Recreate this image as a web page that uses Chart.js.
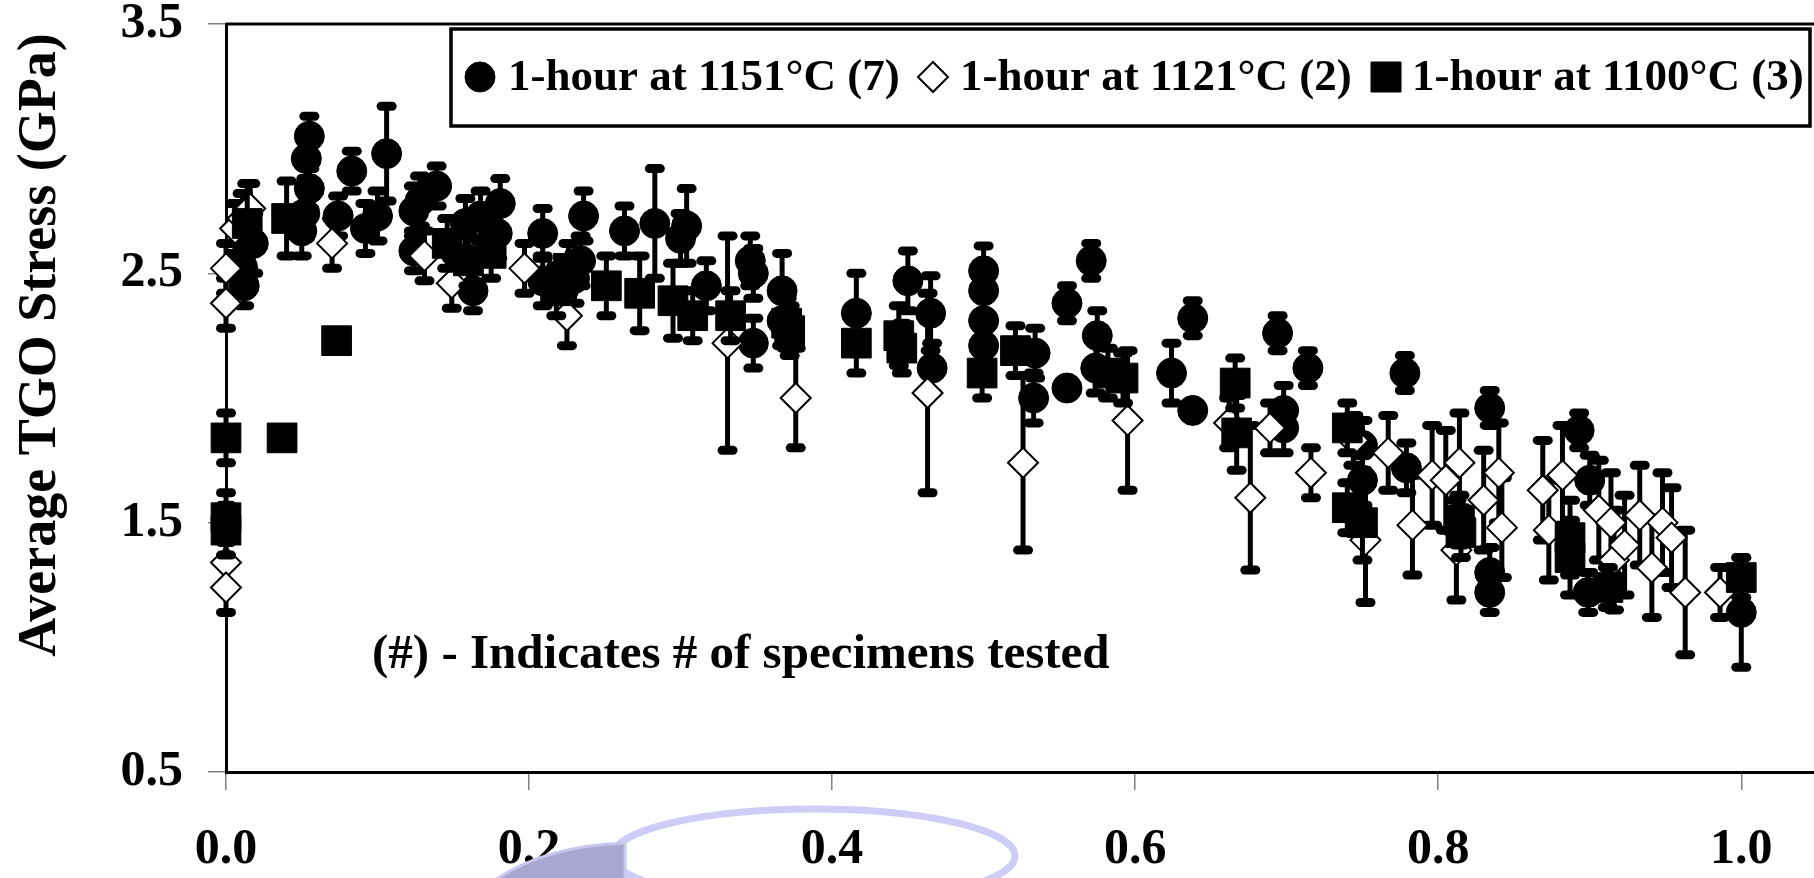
<!DOCTYPE html>
<html>
<head>
<meta charset="utf-8">
<script src="https://cdn.jsdelivr.net/npm/chart.js@4/dist/chart.umd.min.js"></script>
<style>
  html, body { margin: 0; padding: 0; background: #fff; overflow: hidden; }
  #wrap { width: 1814px; height: 878px; }
</style>
</head>
<body>
<div id="wrap"><canvas id="chart" width="1814" height="878"></canvas></div>
<script>
// axis ticks
const xTicks = [0, 0.2, 0.4, 0.6, 0.8, 1.0];
const yTicks = [0.5, 1.5, 2.5, 3.5];

const seriesNames = ['1-hour at 1151°C (7)', '1-hour at 1121°C (2)', '1-hour at 1100°C (3)'];
const yTitle = 'Average TGO Stress (GPa)';
const note = '(#) - Indicates # of specimens tested';

// 1151°C - filled circles
const x1151 = [0.011, 0.012, 0.018, 0.050, 0.052, 0.055, 0.053, 0.055, 0.074, 0.083, 0.092, 0.100, 0.106, 0.124, 0.124, 0.128, 0.139, 0.158, 0.163, 0.168,
  0.181, 0.179, 0.209, 0.209, 0.230, 0.234, 0.236, 0.263, 0.283, 0.304, 0.300, 0.317, 0.346, 0.348, 0.348, 0.367, 0.367, 0.416, 0.450, 0.465,
  0.466, 0.500, 0.500, 0.500, 0.500, 0.534, 0.533, 0.555, 0.571, 0.555, 0.575, 0.574, 0.624, 0.638, 0.638, 0.694, 0.714, 0.698, 0.698, 0.750,
  0.750, 0.778, 0.779, 0.834, 0.834, 0.834, 0.893, 0.900, 0.899, 1.000];
const y1151 = [2.52, 2.45, 2.62, 2.67, 2.74, 2.84, 2.96, 3.05, 2.73, 2.91, 2.68, 2.73, 2.98, 2.75, 2.59, 2.79, 2.85, 2.70, 2.43, 2.73,
  2.78, 2.66, 2.66, 2.47, 2.48, 2.55, 2.73, 2.67, 2.70, 2.69, 2.64, 2.45, 2.55, 2.50, 2.22, 2.43, 2.31, 2.34, 2.47, 2.34,
  2.12, 2.51, 2.43, 2.31, 2.21, 2.18, 2.00, 2.04, 2.55, 2.38, 2.25, 2.12, 2.10, 2.32, 1.95, 2.26, 2.12, 1.95, 1.88, 1.81,
  1.67, 2.10, 1.72, 1.96, 1.30, 1.22, 1.87, 1.67, 1.22, 1.14];
const e1151 = [0.08, 0.08, 0.12, 0.10, 0.10, 0.08, 0.08, 0.08, 0.08, 0.08, 0.10, 0.10, 0.19, 0.10, 0.08, 0.10, 0.08, 0.10, 0.08, 0.10,
  0.10, 0.10, 0.10, 0.10, 0.10, 0.10, 0.10, 0.10, 0.22, 0.15, 0.10, 0.10, 0.10, 0.10, 0.10, 0.15, 0.10, 0.16, 0.12, 0.15,
  0.10, 0.10, 0.10, 0.10, 0.10, 0.10, 0.10, 0, 0.07, 0.07, 0.10, 0.10, 0.12, 0.07, 0, 0.07, 0.07, 0.10, 0.10, 0.10,
  0.10, 0.07, 0.10, 0.07, 0.10, 0.08, 0.07, 0.10, 0.08, 0.22];

// 1121°C - open diamonds
const x1121 = [0.000, 0.000, 0.000, 0.000, 0.006, 0.011, 0.016, 0.070, 0.131, 0.149, 0.197, 0.225, 0.331, 0.376, 0.463, 0.526, 0.595, 0.662, 0.676, 0.689,
  0.716, 0.744, 0.752, 0.767, 0.783, 0.796, 0.805, 0.814, 0.812, 0.830, 0.840, 0.842, 0.869, 0.882, 0.873, 0.906, 0.914, 0.916, 0.923, 0.933,
  0.941, 0.948, 0.954, 0.963, 0.986];
const y1121 = [2.52, 2.38, 1.34, 1.24, 2.68, 2.72, 2.76, 2.62, 2.57, 2.46, 2.52, 2.33, 2.22, 2.00, 2.02, 1.74, 1.91, 1.90, 1.60, 1.88,
  1.70, 1.83, 1.43, 1.78, 1.49, 1.69, 1.67, 1.74, 1.39, 1.59, 1.70, 1.48, 1.63, 1.69, 1.47, 1.55, 1.50, 1.35, 1.41, 1.53,
  1.32, 1.50, 1.44, 1.22, 1.22];
const e1121 = [0.10, 0.10, 0.10, 0.10, 0.10, 0.10, 0.10, 0.10, 0.10, 0.10, 0.10, 0.12, 0.43, 0.20, 0.40, 0.35, 0.28, 0.10, 0.29, 0.10,
  0.10, 0.10, 0.25, 0.15, 0.20, 0.20, 0.20, 0.20, 0.20, 0.20, 0.20, 0.20, 0.20, 0.20, 0.20, 0.20, 0.20, 0.20, 0.20, 0.20,
  0.20, 0.20, 0.20, 0.25, 0.10];

// 1100°C - filled squares
const x1100 = [0.000, 0.037, 0.000, 0.000, 0.014, 0.040, 0.073, 0.146, 0.160, 0.175, 0.218, 0.226, 0.251, 0.273, 0.295, 0.308, 0.333, 0.370, 0.372, 0.416,
  0.444, 0.446, 0.499, 0.521, 0.582, 0.592, 0.666, 0.667, 0.740, 0.740, 0.750, 0.814, 0.815, 0.887, 0.887, 0.912, 1.000];
const y1100 = [1.84, 1.84, 1.52, 1.47, 2.70, 2.72, 2.23, 2.62, 2.55, 2.58, 2.43, 2.52, 2.45, 2.42, 2.39, 2.33, 2.33, 2.30, 2.27, 2.22,
  2.25, 2.20, 2.10, 2.19, 2.10, 2.08, 2.06, 1.86, 1.88, 1.56, 1.50, 1.51, 1.46, 1.44, 1.36, 1.24, 1.28];
const e1100 = [0.10, 0, 0.10, 0.10, 0.16, 0.15, 0, 0.10, 0.10, 0.10, 0.10, 0.10, 0.12, 0.15, 0.15, 0.10, 0.10, 0.10, 0.10, 0.12,
  0.12, 0.10, 0.10, 0.10, 0.10, 0.10, 0.10, 0.15, 0.10, 0.10, 0.15, 0.10, 0.10, 0.15, 0.15, 0.08, 0.08];

const SERIF = '"Liberation Serif", "Times New Roman", serif';

function points(xs, ys) {
  return xs.map((x, i) => ({ x: x, y: ys[i] }));
}

function pill(ctx, cx, cy, w, h) {
  ctx.beginPath();
  ctx.roundRect(cx - w / 2, cy - h / 2, w, h, h / 2);
  ctx.fill();
}

// vertical error bars with rounded caps, drawn under each series' own markers
const errorBars = {
  id: 'errorBars',
  beforeDatasetDraw(chart, args) {
    const ds = chart.data.datasets[args.index];
    if (!ds.errors) return;
    const ctx = chart.ctx, xs = chart.scales.x, ys = chart.scales.y;
    ctx.save();
    ctx.strokeStyle = '#000';
    ctx.fillStyle = '#000';
    ctx.lineWidth = 5;
    ds.data.forEach((p, i) => {
      const e = ds.errors[i];
      if (!e) return;
      const px = xs.getPixelForValue(p.x);
      const top = ys.getPixelForValue(p.y + e);
      const bot = ys.getPixelForValue(p.y - e);
      ctx.beginPath();
      ctx.moveTo(px, top);
      ctx.lineTo(px, bot);
      ctx.stroke();
      pill(ctx, px, top, 20, 9);
      pill(ctx, px, bot, 20, 9);
    });
    ctx.restore();
  }
};

// top frame line, legend box, note, rotated y title, stray slide shapes
const extras = {
  id: 'extras',
  beforeDatasetsDraw(chart) {
    const { ctx, chartArea } = chart;
    ctx.save();
    ctx.strokeStyle = '#000';
    ctx.lineWidth = 3;
    ctx.beginPath();
    ctx.moveTo(chartArea.left, chartArea.top);
    ctx.lineTo(chart.width, chartArea.top);
    ctx.stroke();
    ctx.restore();
  },
  afterDraw(chart) {
    const ctx = chart.ctx;
    ctx.save();

    // legend
    ctx.fillStyle = '#fff';
    ctx.fillRect(451, 29, 1359, 97);
    ctx.strokeStyle = '#000';
    ctx.lineWidth = 3.5;
    ctx.strokeRect(451, 29, 1359, 97);
    const marks = [480, 933, 1386];
    const texts = [508, 960, 1412];
    chart.data.datasets.forEach((ds, i) => {
      const cx = marks[i], cy = 77;
      ctx.beginPath();
      if (ds.pointStyle === 'circle') {
        ctx.arc(cx, cy, 15, 0, Math.PI * 2);
      } else if (ds.pointStyle === 'rectRot') {
        ctx.moveTo(cx - 15, cy); ctx.lineTo(cx, cy - 15);
        ctx.lineTo(cx + 15, cy); ctx.lineTo(cx, cy + 15);
        ctx.closePath();
      } else {
        ctx.rect(cx - 15, cy - 15, 30, 30);
      }
      ctx.fillStyle = ds.backgroundColor;
      ctx.fill();
      ctx.lineWidth = ds.borderWidth;
      ctx.strokeStyle = ds.borderColor;
      ctx.stroke();
      ctx.fillStyle = '#000';
      ctx.font = 'bold 45px ' + SERIF;
      ctx.textBaseline = 'alphabetic';
      ctx.textAlign = 'left';
      ctx.fillText(ds.label, texts[i], 90);
    });

    // note
    ctx.font = 'bold 49px ' + SERIF;
    ctx.fillText(note, 372, 668);

    // y title
    ctx.save();
    ctx.translate(55, 345);
    ctx.rotate(-Math.PI / 2);
    ctx.textAlign = 'center';
    ctx.font = 'bold 54px ' + SERIF;
    ctx.fillText(yTitle, 0, 0);
    ctx.restore();

    // stray lavender shapes from the slide
    ctx.strokeStyle = '#cdcdf7';
    ctx.lineWidth = 7;
    ctx.beginPath();
    ctx.ellipse(814, 856, 201, 47, 0, 0, Math.PI * 2);
    ctx.stroke();
    ctx.fillStyle = '#a7a7cf';
    ctx.strokeStyle = '#c8c8ee';
    ctx.lineWidth = 3;
    ctx.beginPath();
    ctx.moveTo(495, 880);
    ctx.quadraticCurveTo(545, 846, 625, 843);
    ctx.lineTo(625, 880);
    ctx.closePath();
    ctx.fill();
    ctx.stroke();

    ctx.restore();
  }
};

const tickFont = { family: SERIF, weight: 'bold', size: 50 };

new Chart(document.getElementById('chart'), {
  type: 'scatter',
  data: {
    datasets: [
      { label: seriesNames[0], data: points(x1151, y1151), errors: e1151, pointStyle: 'circle', pointRadius: 15,
        backgroundColor: '#000', borderColor: '#000', borderWidth: 1, clip: false, order: 3 },
      { label: seriesNames[1], data: points(x1121, y1121), errors: e1121, pointStyle: 'rectRot', pointRadius: 15,
        backgroundColor: '#fff', borderColor: '#000', borderWidth: 2, clip: false, order: 2 },
      { label: seriesNames[2], data: points(x1100, y1100), errors: e1100, pointStyle: 'rect', pointRadius: 21,
        backgroundColor: '#000', borderColor: '#000', borderWidth: 1, clip: false, order: 1 }
    ]
  },
  options: {
    responsive: false,
    animation: false,
    events: [],
    layout: { autoPadding: false, padding: { top: 24, right: 0, left: 0, bottom: 0 } },
    plugins: { legend: { display: false }, tooltip: { enabled: false } },
    scales: {
      x: {
        type: 'linear', min: 0, max: 1.048,
        afterBuildTicks: s => { s.ticks = xTicks.map(v => ({ value: v })); },
        afterFit: s => { s.height = 106; s.paddingLeft = 0; s.paddingRight = 0; },
        grid: { drawOnChartArea: false, drawTicks: true, tickLength: 18, color: '#808080', lineWidth: 1.5 },
        border: { display: true, color: '#000', width: 3 },
        ticks: { font: tickFont, color: '#000', padding: 30, maxRotation: 0, callback: v => v.toFixed(1) }
      },
      y: {
        type: 'linear', min: 0.5, max: 3.5,
        afterBuildTicks: s => { s.ticks = yTicks.map(v => ({ value: v })); },
        afterFit: s => { s.width = 226; s.paddingTop = 0; s.paddingBottom = 0; },
        grid: { drawOnChartArea: false, drawTicks: true, tickLength: 18, color: '#808080', lineWidth: 1.5 },
        border: { display: true, color: '#000', width: 3 },
        ticks: { font: tickFont, color: '#000', padding: 25, callback: v => v.toFixed(1) }
      }
    }
  },
  plugins: [errorBars, extras]
});
</script>
</body>
</html>
